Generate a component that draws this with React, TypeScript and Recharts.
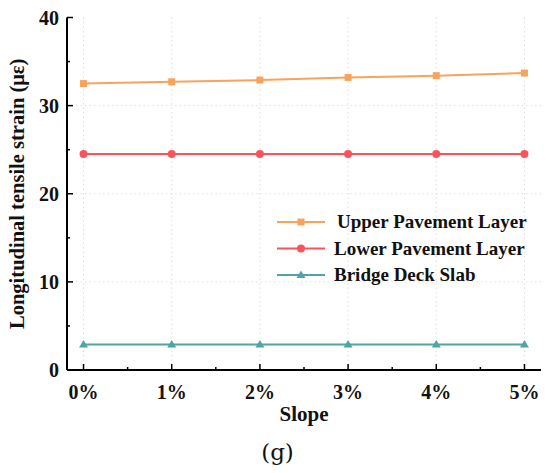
import React from 'react'
import { LineChart, Line, XAxis, YAxis, CartesianGrid } from 'recharts'

const slopes = [0, 1, 2, 3, 4, 5]
const upperLayer = [32.5, 32.7, 32.9, 33.2, 33.4, 33.7]
const lowerLayer = [24.5, 24.5, 24.5, 24.5, 24.5, 24.5]
const deckSlab = [2.9, 2.9, 2.9, 2.9, 2.9, 2.9]

const xTicks = [0, 0.5, 1, 1.5, 2, 2.5, 3, 3.5, 4, 4.5, 5]
const yTicks = [0, 5, 10, 15, 20, 25, 30, 35, 40]
const xGrid = [0, 1, 2, 3, 4, 5]
const yGrid = [10, 20, 30]

const data = slopes.map((s, i) => ({
  slope: s,
  upper: upperLayer[i],
  lower: lowerLayer[i],
  deck: deckSlab[i]
}))

const FONT = '"Liberation Serif", "Times New Roman", serif'

const series = [
  { key: 'upper', name: 'Upper Pavement Layer', color: '#F7A35C', shape: 'square' },
  { key: 'lower', name: 'Lower Pavement Layer', color: '#F9545B', shape: 'circle' },
  { key: 'deck', name: 'Bridge Deck Slab', color: '#4FA3A9', shape: 'triangle' }
]

function Marker({ cx, cy, shape, color }: any) {
  if (cx == null || cy == null) return null
  if (shape === 'square') return <rect x={cx - 3.5} y={cy - 3.5} width={7} height={7} fill={color} />
  if (shape === 'circle') return <circle cx={cx} cy={cy} r={4} fill={color} />
  return <polygon points={`${cx},${cy - 4.5} ${cx + 4.5},${cy + 3} ${cx - 4.5},${cy + 3}`} fill={color} />
}

function XTick({ x, y, payload }: any) {
  const major = Number.isInteger(payload.value)
  return (
    <g>
      <line x1={x} x2={x} y1={y} y2={y - (major ? 6 : 3)} stroke="#000" strokeWidth={1.5} />
      {major && (
        <text x={x} y={y + 29} textAnchor="middle" fontFamily={FONT} fontWeight="bold" fontSize={20} fill="#111">
          {payload.value}%
        </text>
      )}
    </g>
  )
}

function YTick({ x, y, payload }: any) {
  const major = payload.value % 10 === 0
  return (
    <g>
      <line x1={x} x2={x + (major ? 6 : 3)} y1={y} y2={y} stroke="#000" strokeWidth={1.5} />
      {major && (
        <text x={x - 8} y={y + 7} textAnchor="end" fontFamily={FONT} fontWeight="bold" fontSize={20} fill="#111">
          {payload.value}
        </text>
      )}
    </g>
  )
}

function ChartLegend() {
  return (
    <svg width={260} height={80} style={{ position: 'absolute', left: 275, top: 208 }}>
      {series.map((s, i) => {
        const cy = 14 + i * 26.5
        return (
          <g key={s.key}>
            <line x1={2} x2={50} y1={cy} y2={cy} stroke={s.color} strokeWidth={2} />
            <Marker cx={26} cy={cy} shape={s.shape} color={s.color} />
            <text x={i === 0 ? 62 : 59} y={cy + 6} fontFamily={FONT} fontWeight="bold" fontSize={19} fill="#111">
              {s.name}
            </text>
          </g>
        )
      })}
    </svg>
  )
}

export default function App() {
  return (
    <div style={{ position: 'absolute', left: 0, top: 0, width: 550, height: 473, background: '#fff' }}>
      <LineChart width={550} height={473} data={data} margin={{ top: 17.5, right: 9, left: 0, bottom: 0 }}>
        <CartesianGrid
          stroke="#e0e0e0"
          strokeDasharray="1.5 3"
          verticalValues={xGrid}
          horizontalValues={yGrid}
        />
        <XAxis
          dataKey="slope"
          type="number"
          domain={[-0.1875, 5.1875]}
          ticks={xTicks}
          interval={0}
          allowDataOverflow
          height={103}
          tickSize={0}
          tickMargin={0}
          tickLine={false}
          axisLine={{ stroke: '#000', strokeWidth: 2 }}
          tick={<XTick />}
          label={{
            value: 'Slope',
            position: 'insideTop',
            offset: 36,
            style: { fontFamily: FONT, fontWeight: 'bold', fontSize: 21, fill: '#111' }
          }}
        />
        <XAxis
          xAxisId="top"
          orientation="top"
          dataKey="slope"
          type="number"
          domain={[-0.1875, 5.1875]}
          height={0}
          tick={false}
          tickLine={false}
          axisLine={{ stroke: '#000', strokeWidth: 2 }}
        />
        <YAxis
          type="number"
          domain={[0, 40]}
          ticks={yTicks}
          interval={0}
          width={67}
          tickSize={0}
          tickMargin={0}
          tickLine={false}
          axisLine={{ stroke: '#000', strokeWidth: 2 }}
          tick={<YTick />}
          label={{
            value: 'Longitudinal tensile strain (με)',
            angle: -90,
            position: 'insideLeft',
            offset: 17,
            style: { fontFamily: FONT, fontWeight: 'bold', fontSize: 20.5, fill: '#111', textAnchor: 'middle' }
          }}
        />
        <YAxis
          yAxisId="right"
          orientation="right"
          domain={[0, 40]}
          width={0}
          tick={false}
          tickLine={false}
          axisLine={{ stroke: '#000', strokeWidth: 2 }}
        />
        {series.map(s => (
          <Line
            key={s.key}
            dataKey={s.key}
            name={s.name}
            stroke={s.color}
            strokeWidth={2}
            type="linear"
            isAnimationActive={false}
            dot={(p: any) => <Marker key={`${s.key}-${p.index}`} cx={p.cx} cy={p.cy} shape={s.shape} color={s.color} />}
          />
        ))}
      </LineChart>
      <ChartLegend />
      <div
        style={{
          position: 'absolute',
          left: 0,
          width: 555,
          top: 439,
          textAlign: 'center',
          fontFamily: '"DejaVu Serif", serif',
          fontSize: 23,
          color: '#111'
        }}
      >
        (g)
      </div>
    </div>
  )
}
